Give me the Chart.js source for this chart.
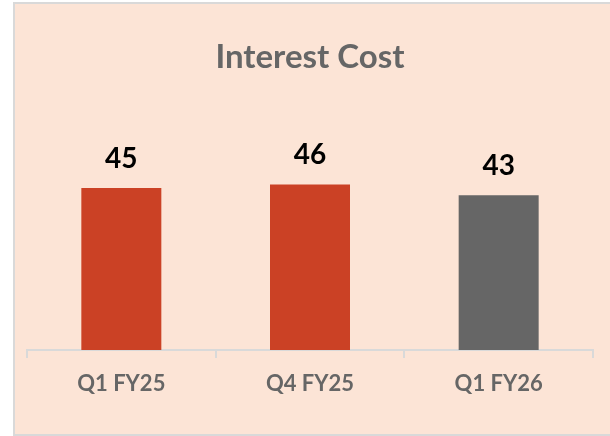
<!DOCTYPE html>
<html>
<head>
<meta charset="utf-8">
<script src="https://cdn.jsdelivr.net/npm/chart.js@4"></script>
<style>
  html, body { margin: 0; padding: 0; width: 610px; height: 436px; overflow: hidden; background: #fff; }
  .frame {
    position: absolute; left: 13px; top: 2px; width: 640px; height: 430px;
    background: #FCE4D6; border: 2px solid #D9D9D9; border-right: none;
  }
  #chart { position: absolute; left: 0; top: 0; }
</style>
</head>
<body>
<div class="frame"></div>
<canvas id="chart" width="610" height="436"></canvas>
<script>
// chart data
const categories = ['Q1 FY25', 'Q4 FY25', 'Q1 FY26'];
const interestCost = [45, 46, 43];
const barColors = ['#CB4125', '#CB4125', '#666666'];

// draws the value above every bar
const valueLabels = {
    id: 'valueLabels',
    afterDatasetsDraw(chart) {
        const c = chart.ctx;
        const meta = chart.getDatasetMeta(0);
        c.save();
        c.font = 'bold 28px Lato';
        c.fillStyle = '#000';
        c.textAlign = 'center';
        c.textBaseline = 'alphabetic';
        meta.data.forEach((bar, i) => {
            c.fillText(String(interestCost[i]), bar.x, bar.y - 20);
        });
        c.restore();
    }
};

new Chart(document.getElementById('chart'), {
    type: 'bar',
    data: {
        labels: categories,
        datasets: [{
            data: interestCost,
            backgroundColor: barColors,
            borderWidth: 0,
            barPercentage: 0.424,
            categoryPercentage: 1
        }]
    },
    options: {
        responsive: false,
        animation: false,
        layout: { padding: { left: 27, right: 17, top: 3, bottom: 25.6 } },
        plugins: {
            legend: { display: false },
            tooltip: { enabled: false },
            title: {
                display: true,
                text: 'Interest Cost',
                color: '#666666',
                font: { family: 'Lato', size: 33, weight: 'bold', lineHeight: 1.2 },
                padding: { top: 34.4, bottom: 57 }
            }
        },
        scales: {
            x: {
                offset: true,
                border: { display: true, color: '#D9D9D9', width: 2 },
                grid: { offset: true, drawOnChartArea: false, drawTicks: true, tickLength: 8, color: '#D9D9D9', lineWidth: 2 },
                ticks: { color: '#666666', padding: 13, font: { family: 'Lato', size: 22, weight: 'bold', lineHeight: 1.2 } }
            },
            y: {
                display: false,
                min: 0,
                max: 60
            }
        }
    },
    plugins: [valueLabels]
});
</script>
</body>
</html>
